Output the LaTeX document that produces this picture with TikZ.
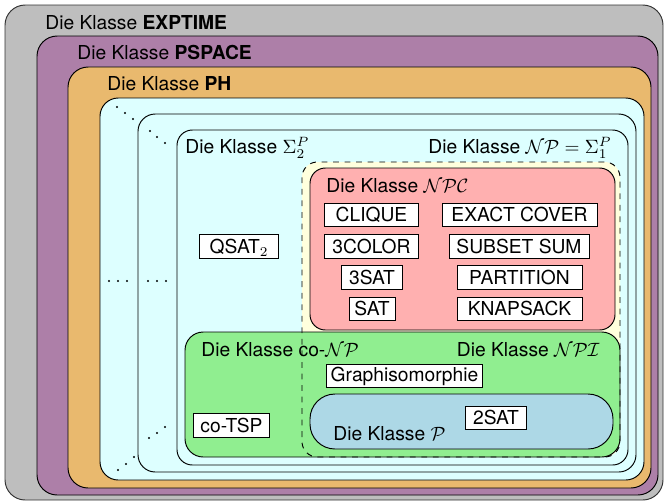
\documentclass[tikz,border=0pt]{standalone}
\usepackage{fontspec}
\setmainfont{TeX Gyre Heros}

\definecolor{exptimegray}{RGB}{190,190,190}
\definecolor{pspaceplum}{RGB}{173,127,168}
\definecolor{phorange}{RGB}{233,185,110}
\definecolor{sigmacyan}{RGB}{221,255,255}
\definecolor{npyellow}{RGB}{255,255,221}
\definecolor{npcred}{RGB}{255,176,176}
\definecolor{conpgreen}{RGB}{144,238,144}
\definecolor{pblue}{RGB}{173,216,230}

\begin{document}
\begin{tikzpicture}[x=0.52pt,y=-0.52pt,
  region/.style={draw=black, line width=0.5pt},
  classlabel/.style={inner sep=0pt, font=\fontsize{10}{12}\selectfont},
  problem/.style={draw=black, line width=0.5pt, fill=white, inner xsep=2pt,
    inner ysep=2.6pt, text height=7.2pt, text depth=0pt,
    font=\fontsize{10}{12}\selectfont},
  dotmark/.style={fill=black}]
\useasboundingbox (0,0) rectangle (664,502);

% nested complexity classes
\draw[region, draw=black!80, fill=exptimegray, rounded corners=10.5pt] (5,5) rectangle (663,500);
\draw[region, fill=pspaceplum, rounded corners=10.5pt] (37,36) rectangle (658,495);
\draw[region, fill=phorange, rounded corners=10.5pt] (68,67) rectangle (651,488);
\draw[region, fill=sigmacyan, rounded corners=9.5pt] (100,98) rectangle (644,480);
\draw[region, fill=sigmacyan, rounded corners=9pt] (138,114) rectangle (636,472);
\draw[region, fill=sigmacyan, rounded corners=8pt] (177,130) rectangle (628,465);
% NP: fill first, dashed outline on top at the end
\fill[npyellow, rounded corners=8pt] (302,162) rectangle (620,457);
\draw[region, fill=npcred, rounded corners=8pt] (310,168) rectangle (615,330);
\draw[region, fill=conpgreen, rounded corners=9.5pt] (185,332) rectangle (620,457);
\draw[region, fill=pblue, rounded corners=13pt] (310,394) rectangle (613,449);
\draw[line width=0.5pt, dashed, rounded corners=8pt] (302,162) rectangle (620,457);

% class labels
\node[classlabel, anchor=base west] (lexp) at (45,29.5) {Die Klasse \textbf{EXPTIME}};
\node[classlabel, anchor=base west] (lpspace) at (77,59.5) {Die Klasse \textbf{PSPACE}};
\node[classlabel, anchor=base west] (lph) at (107,90.5) {Die Klasse \textbf{PH}};
\node[classlabel, anchor=base west] (lsigma) at (185,153.5) {Die Klasse $\Sigma_2^P$};
\node[classlabel, anchor=base east] (lnp) at (612,153.5) {Die Klasse $\mathcal{NP} = \Sigma_1^P$};
\node[classlabel, anchor=base west] (lnpc) at (326,192) {Die Klasse $\mathcal{NPC}$};
\node[classlabel, anchor=base west] (lconp) at (201,356) {Die Klasse co-$\mathcal{NP}$};
\node[classlabel, anchor=base east] (lnpi) at (600,356) {Die Klasse $\mathcal{NPI}$};
\node[classlabel, anchor=base west] (lp) at (333,440) {Die Klasse $\mathcal{P}$};

% problems
\node[problem, minimum width=48.4pt] (clique) at (371.5,215) {CLIQUE};
\node[problem, minimum width=48.4pt] (color) at (371.5,246.5) {3COLOR};
\node[problem, minimum width=32.2pt] (tsat) at (372,277.5) {3SAT};
\node[problem, minimum width=23.9pt] (sat) at (372,309) {SAT};
\node[problem, minimum width=80.6pt] (exact) at (519.5,215) {EXACT COVER};
\node[problem, minimum width=72.8pt] (subset) at (519,246.5) {SUBSET SUM};
\node[problem, minimum width=65pt] (partition) at (519.5,277.5) {PARTITION};
\node[problem, minimum width=65pt] (knapsack) at (519.5,309) {KNAPSACK};
\node[problem, minimum width=40.6pt] (qsat) at (239,246.5) {QSAT$_2$};
\node[problem, minimum width=80.6pt, inner ysep=1.6pt, text depth=2pt] (graphiso) at (404.5,376) {Graphisomorphie};
\node[problem, minimum width=40pt] (cotsp) at (231.5,425.5) {co-TSP};
\node[problem, minimum width=32.2pt] (twosat) at (496,418) {2SAT};

% ellipsis dots for the omitted levels of the hierarchy
\foreach \p in {(117,107),(125,113),(133,119),(150,131),(157,137),(165,143),
                (109,281),(118,281),(127,281),(148,281),(157,281),(166,281),
                (118,470),(126,464),(134,457),(149,438),(157,433),(165,427)}
  \fill[dotmark] \p circle[radius=0.55pt];
\end{tikzpicture}
\end{document}
